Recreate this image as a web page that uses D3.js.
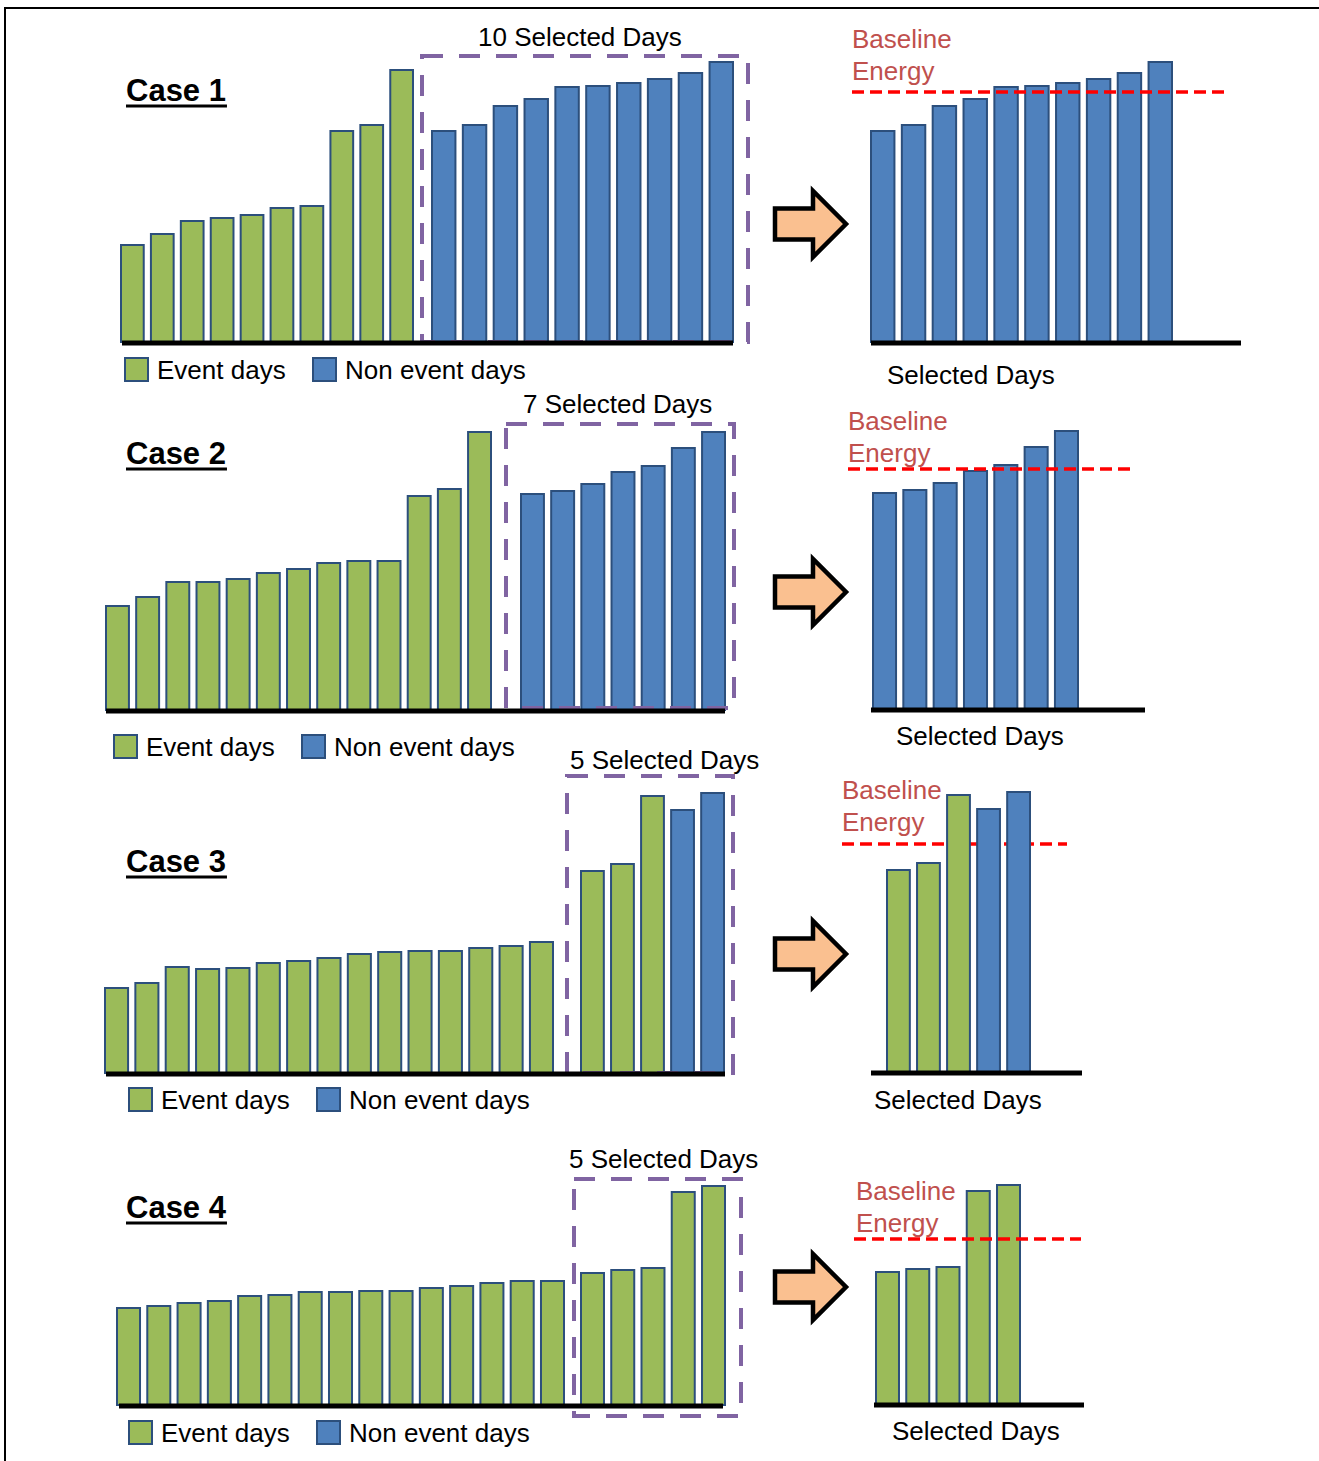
<!DOCTYPE html>
<html lang="en">
<head>
<meta charset="UTF-8">
<title>Baseline energy - selected days</title>
<style>
  body { margin: 0; background: #fff; }
  svg { display: block; font-family: "Liberation Sans", Arial, sans-serif; }
</style>
</head>
<body>
<div id="chart"></div>
<script src="https://d3js.org/d3.v7.min.js"></script>
<script>
// bar heights, sorted as drawn (E = event day, N = non event day)
const case1Values = [97, 108, 121, 124, 127, 134, 136, 211, 217, 272, 211, 217, 236, 243, 255, 256, 259, 263, 269, 280];
const case1Types = "EEEEEEEEEENNNNNNNNNN".split("");
const case2Values = [104, 113, 128, 128, 131, 137, 141, 147, 149, 149, 214, 221, 278, 216, 219, 226, 238, 244, 262, 278];
const case2Types = "EEEEEEEEEEEEENNNNNNN".split("");
const case3Values = [85, 90, 106, 104, 105, 110, 112, 115, 119, 121, 122, 122, 125, 127, 131, 202, 209, 277, 263, 280];
const case3Types = "EEEEEEEEEEEEEEEEEENN".split("");
const case4Values = [97, 99, 102, 104, 109, 110, 113, 113, 114, 114, 117, 119, 122, 124, 124, 132, 135, 137, 213, 219];
const case4Types = "EEEEEEEEEEEEEEEEEEEE".split("");

const selectedCounts = [10, 7, 5, 5];
const baselineEnergy = [250, 240, 228, 165];
const caseNames = ["Case 1", "Case 2", "Case 3", "Case 4"];
const legendLabels = ["Event days", "Non event days"];

const values = [case1Values, case2Values, case3Values, case4Values];
const types = [case1Types, case2Types, case3Types, case4Types];

const width = 1319, height = 1461;
const color = { E: "#9BBB59", N: "#4F81BD" };
const barStroke = "#2C4F7C";

// where each case sits on the page
const layout = [
  { base: 342, baseR: 342, title: 101, left: [121, 413], sel: [432, 733], right: [871, 1172],
    axisL: [122, 733], axisR: [871, 1241], box: [422, 56, 748, 342], selLabel: [478, 46],
    legend: [125, 358], rightLabel: [887, 384], energy: [852, 48], dash: [852, 1230], arrowY: 224, behind: false },
  { base: 710, baseR: 709, title: 464, left: [106, 491], sel: [521, 725], right: [873, 1078],
    axisL: [106, 725], axisR: [871, 1145], box: [506, 424, 734, 708], selLabel: [523, 413],
    legend: [114, 735], rightLabel: [896, 745], energy: [848, 430], dash: [848, 1135], arrowY: 592, behind: false },
  { base: 1073, baseR: 1072, title: 872, left: [105, 553], sel: [581, 724], right: [887, 1030],
    axisL: [106, 725], axisR: [871, 1082], box: [567, 776, 733, 1073], selLabel: [570, 769],
    legend: [129, 1088], rightLabel: [874, 1109], energy: [842, 799], dash: [842, 1067], arrowY: 954, behind: true },
  { base: 1405, baseR: 1404, title: 1218, left: [117, 564], sel: [581, 725], right: [876, 1020],
    axisL: [119, 723], axisR: [874, 1084], box: [574, 1179, 741, 1416], selLabel: [569, 1168],
    legend: [129, 1421], rightLabel: [892, 1440], energy: [856, 1200], dash: [854, 1081], arrowY: 1287, behind: false }
];

const svg = d3.select("#chart")
  .append("svg")
  .attr("width", width)
  .attr("height", height)
  .attr("viewBox", [0, 0, width, height]);

// outer frame (only top and left edges are inside the picture)
svg.append("path")
  .attr("d", `M5,${height + 5}V8H${width + 5}`)
  .attr("fill", "none")
  .attr("stroke", "black")
  .attr("stroke-width", 2);

function drawBars(g, data, x, y, base) {
  g.selectAll("rect")
    .data(data)
    .join("rect")
    .attr("x", (d, i) => x(i))
    .attr("y", d => y(d.v))
    .attr("width", x.bandwidth())
    .attr("height", d => base - y(d.v))
    .attr("fill", d => color[d.t])
    .attr("stroke", barStroke)
    .attr("stroke-width", 2);
}

function hLine(g, x1, x2, yy, stroke, w, dash) {
  g.append("line")
    .attr("x1", x1).attr("x2", x2)
    .attr("y1", yy).attr("y2", yy)
    .attr("stroke", stroke)
    .attr("stroke-width", w)
    .attr("stroke-dasharray", dash || null);
}

layout.forEach((L, c) => {
  const g = svg.append("g");
  const data = values[c].map((v, i) => ({ v: v, t: types[c][i] }));
  const nSel = selectedCounts[c];
  const others = data.slice(0, data.length - nSel);
  const picked = data.slice(data.length - nSel);

  const y = d3.scaleLinear().domain([0, 300]).range([L.base, L.base - 300]);
  const yR = d3.scaleLinear().domain([0, 300]).range([L.baseR, L.baseR - 300]);

  const band = (n, r) => d3.scaleBand().domain(d3.range(n)).range(r).paddingInner(0.24).paddingOuter(0);
  const xOther = band(others.length, L.left);
  const xSel = band(picked.length, L.sel);
  const xRight = band(picked.length, L.right);

  // title
  const t = g.append("text")
    .attr("x", 126).attr("y", L.title)
    .attr("font-size", 31).attr("font-weight", "bold")
    .text(caseNames[c]);
  const tw = t.node().getComputedTextLength();
  hLine(g, 126, 126 + tw + 1, L.title + 5, "black", 3);

  // left panel
  drawBars(g.append("g"), others, xOther, y, L.base);
  drawBars(g.append("g"), picked, xSel, y, L.base);

  const [bx1, by1, bx2, by2] = L.box;
  g.append("rect")
    .attr("x", bx1).attr("y", by1)
    .attr("width", bx2 - bx1).attr("height", by2 - by1)
    .attr("fill", "none")
    .attr("stroke", "#8064A2")
    .attr("stroke-width", 4)
    .attr("stroke-dasharray", "21,16");

  hLine(g, L.axisL[0], L.axisL[1], L.base + 1, "black", 5);

  g.append("text")
    .attr("x", L.selLabel[0]).attr("y", L.selLabel[1])
    .attr("font-size", 26)
    .text(`${nSel} Selected Days`);

  // legend
  legendLabels.forEach((lab, i) => {
    const lx = L.legend[0] + i * 188;
    g.append("rect")
      .attr("x", lx).attr("y", L.legend[1])
      .attr("width", 23).attr("height", 23)
      .attr("fill", i ? color.N : color.E)
      .attr("stroke", barStroke)
      .attr("stroke-width", 2);
    g.append("text")
      .attr("x", lx + 32).attr("y", L.legend[1] + 21)
      .attr("font-size", 26)
      .text(lab);
  });

  // arrow
  const ax = 775, ay = L.arrowY;
  g.append("path")
    .attr("d", `M${ax},${ay - 15.5}H${ax + 38}V${ay - 33}L${ax + 71},${ay}L${ax + 38},${ay + 33}V${ay + 15.5}H${ax}Z`)
    .attr("fill", "#FAC090")
    .attr("stroke", "black")
    .attr("stroke-width", 4.5);

  // right panel
  const rg = g.append("g");
  const energyY = yR(baselineEnergy[c]);
  if (L.behind) hLine(rg, L.dash[0], L.dash[1], energyY, "#FF0000", 3.5, "12,6");
  drawBars(rg.append("g"), picked, xRight, yR, L.baseR);
  if (!L.behind) hLine(rg, L.dash[0], L.dash[1], energyY, "#FF0000", 3.5, "12,6");
  hLine(rg, L.axisR[0], L.axisR[1], L.baseR + 1, "black", 5);

  rg.append("text")
    .attr("x", L.energy[0]).attr("y", L.energy[1])
    .attr("font-size", 26).attr("fill", "#C0504D")
    .selectAll("tspan")
    .data(["Baseline", "Energy"])
    .join("tspan")
    .attr("x", L.energy[0])
    .attr("dy", (d, i) => i ? 32 : 0)
    .text(d => d);

  rg.append("text")
    .attr("x", L.rightLabel[0]).attr("y", L.rightLabel[1])
    .attr("font-size", 26)
    .text("Selected Days");
});
</script>
</body>
</html>
